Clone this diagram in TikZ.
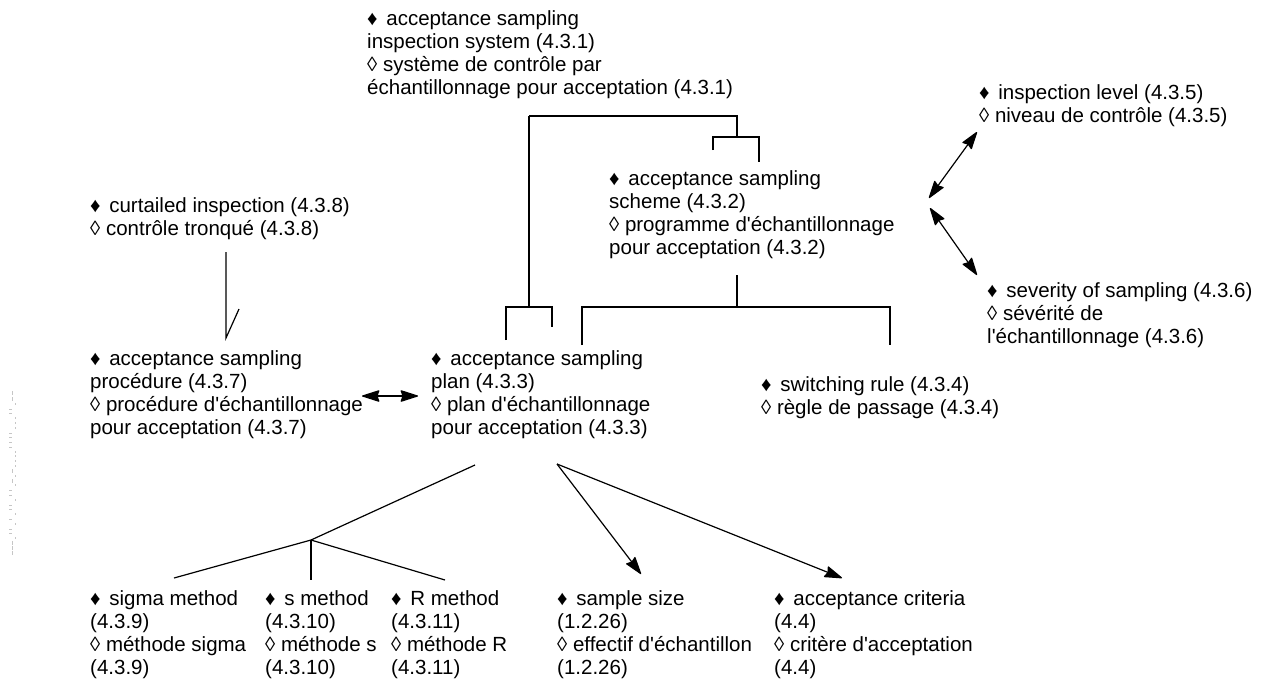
\documentclass[tikz,border=0pt]{standalone}
\usepackage{fontspec}
\setmainfont{Liberation Sans}[Ligatures=TeXOff]
\usetikzlibrary{arrows.meta}
\newcommand\tstrut{\rule{0pt}{16pt}}
\newcommand\en{\tstrut♦\hspace{3pt} }
\newcommand\fr{◊ }
\begin{document}
\begin{tikzpicture}[x=1pt,y=-1pt,
  term/.style={anchor=north west, inner sep=0pt, align=left,
    font=\fontsize{20.5}{23}\selectfont},
  link/.style={line width=1.2pt, black},
  dbl/.style={link, {Stealth[length=19pt,width=12pt,inset=2pt,round]}-{Stealth[length=19pt,width=12pt,inset=2pt,round]}},
  one/.style={link, -{Stealth[length=19pt,width=12pt,inset=2pt,round]}},
  faint/.style={gray!45, line width=0.8pt}]
\useasboundingbox (0,0) rectangle (1268,689);

% terms
\node[term] (sys)   at (367,9)   {\en acceptance sampling\\inspection system (4.3.1)\\\fr système de contrôle par\\échantillonnage pour acceptation (4.3.1)};
\node[term] (lev)   at (979,83)  {\en inspection level (4.3.5)\\\fr niveau de contrôle (4.3.5)};
\node[term] (sch)   at (609,169) {\en acceptance sampling\\scheme (4.3.2)\\\fr programme d'échantillonnage\\pour acceptation (4.3.2)};
\node[term] (cur)   at (90,196)  {\en curtailed inspection (4.3.8)\\\fr contrôle tronqué (4.3.8)};
\node[term] (sev)   at (987,281) {\en severity of sampling (4.3.6)\\\fr sévérité de\\l'échantillonnage (4.3.6)};
\node[term] (proc)  at (90,349)  {\en acceptance sampling\\procédure (4.3.7)\\\fr procédure d'échantillonnage\\pour acceptation (4.3.7)};
\node[term] (plan)  at (431,349) {\en acceptance sampling\\plan (4.3.3)\\\fr plan d'échantillonnage\\pour acceptation (4.3.3)};
\node[term] (sw)    at (761,375) {\en switching rule (4.3.4)\\\fr règle de passage (4.3.4)};
\node[term] (sig)   at (90,589)  {\en sigma method\\(4.3.9)\\\fr méthode sigma\\(4.3.9)};
\node[term] (sm)    at (265,589) {\en s method\\(4.3.10)\\\fr méthode s\\(4.3.10)};
\node[term] (rm)    at (391,589) {\en R method\\(4.3.11)\\\fr méthode R\\(4.3.11)};
\node[term] (ss)    at (557,589) {\en sample size\\(1.2.26)\\\fr effectif d'échantillon\\(1.2.26)};
\node[term] (crit)  at (774,589) {\en acceptance criteria\\(4.4)\\\fr critère d'acceptation\\(4.4)};

% bracket points
\coordinate (sysL) at (529,116);  \coordinate (sysR) at (737,116);
\coordinate (schT) at (737,137);
\coordinate (schA) at (713,137);  \coordinate (schB) at (759,137);
\coordinate (schAe) at (713,150); \coordinate (schBe) at (759,162);
\coordinate (planT) at (529,307);
\coordinate (planA) at (506,307); \coordinate (planB) at (552,307);
\coordinate (planAe) at (506,340); \coordinate (planBe) at (552,327);
\coordinate (schD) at (737,275);  \coordinate (schJ) at (737,307);
\coordinate (swA) at (582,307);   \coordinate (swB) at (890,307);
\coordinate (swAe) at (582,345);  \coordinate (swBe) at (890,345);
\coordinate (curT) at (226,252);  \coordinate (curB) at (226,338);
\coordinate (curS) at (239,309);
\coordinate (procR) at (362,396); \coordinate (planL) at (418,396);
\coordinate (levA) at (977,132);  \coordinate (levB) at (929,198);
\coordinate (sevA) at (930,208);  \coordinate (sevB) at (977,275);
\coordinate (planD) at (475,465); \coordinate (tj) at (311,540);
\coordinate (sigT) at (174,578);  \coordinate (smT) at (311,580);
\coordinate (rmT) at (445,580);
\coordinate (planE) at (557,464);
\coordinate (ssT) at (641,574);   \coordinate (critT) at (842,578);

% system -> plan and scheme
\draw[link] (sysL) -- (sysR) -- (schT);
\draw[link] (schAe) -- (schA) -- (schB) -- (schBe);
\draw[link] (sysL) -- (planT);
\draw[link] (planAe) -- (planA) -- (planB) -- (planBe);
% scheme -> plan and switching rule
\draw[link] (schD) -- (schJ);
\draw[link] (swAe) -- (swA) -- (swB) -- (swBe);
% curtailed inspection -> procedure
\draw[link] (curT) -- (curB) -- (curS);
% associative arrows
\draw[dbl] (procR) -- (planL);
\draw[dbl] (levA) -- (levB);
\draw[dbl] (sevA) -- (sevB);
% plan -> methods
\draw[link] (planD) -- (tj);
\draw[link] (tj) -- (sigT);
\draw[link] (tj) -- (smT);
\draw[link] (tj) -- (rmT);
% plan -> sample size, criteria
\draw[one] (planE) -- (ssT);
\draw[one] (planE) -- (critT);

% small faint marks at the left margin
\foreach \y in {393,399,471,481,543,548,553} \draw[faint] (12,\y-2) -- (12,\y+2);
\foreach \y in {409,413,433,437,442,447,490,495,505,509,519,529,533} \draw[faint] (9,\y) -- (12,\y);
\foreach \y in {404,418,423,428,452,456,461,466,476,485,500,514,524,538} \draw[faint] (15,\y-1) -- (15,\y+1);
\end{tikzpicture}
\end{document}
